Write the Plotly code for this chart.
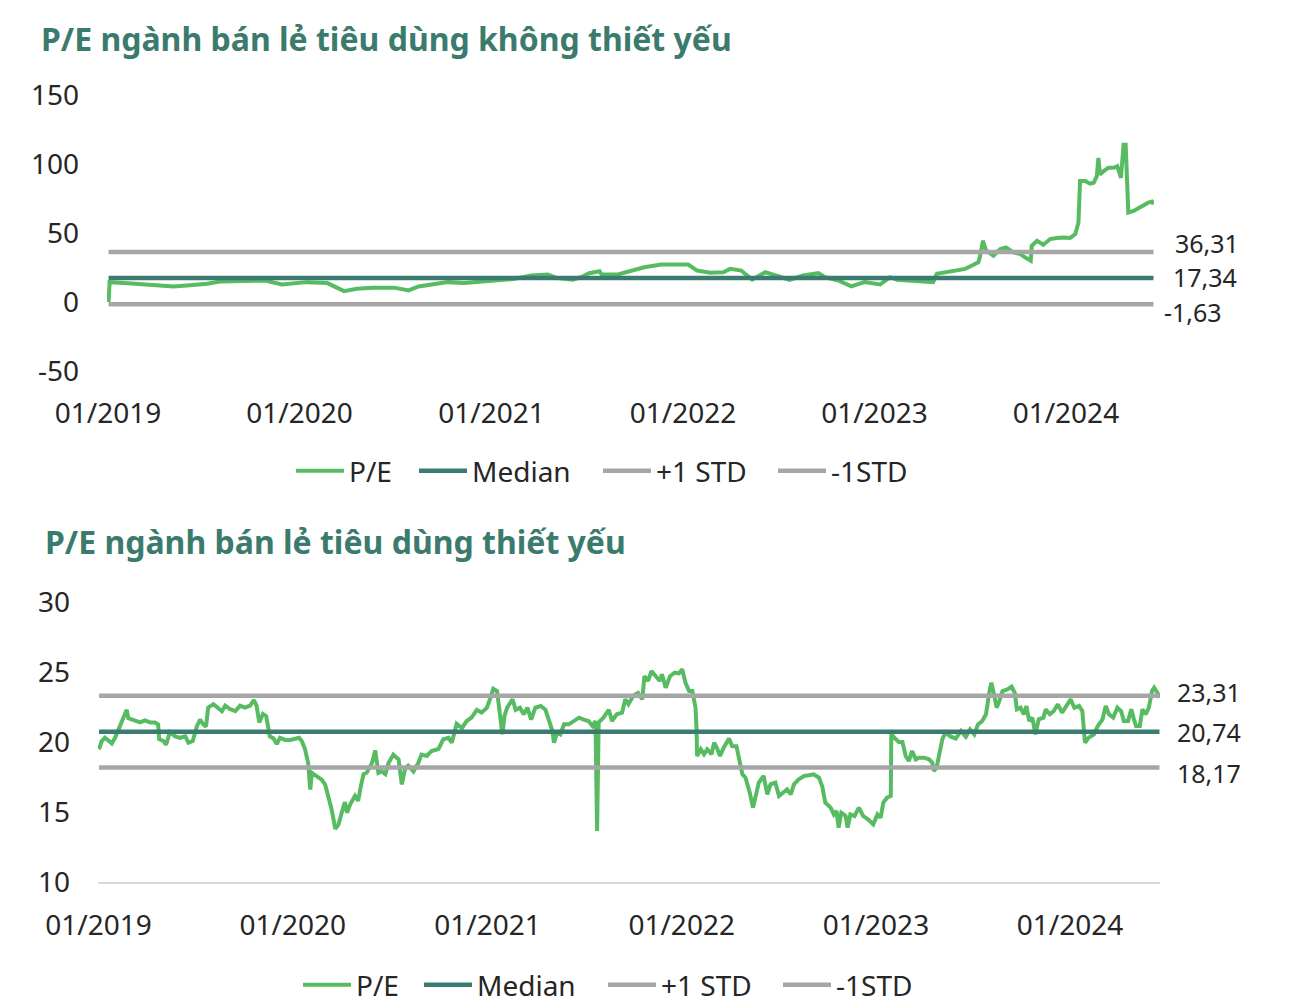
import plotly.graph_objects as go

# ---------------- DATA ----------------
TITLE_TOP = "P/E ngành bán lẻ tiêu dùng không thiết yếu"
TITLE_BOT = "P/E ngành bán lẻ tiêu dùng thiết yếu"
SERIES = ["P/E", "Median", "+1 STD", "-1STD"]

top_dates = [
    "2019-01-02", "2019-01-04", "2019-02-01", "2019-03-12", "2019-05-06", "2019-05-31", "2019-07-09", "2019-08-02",
    "2019-09-26", "2019-10-28", "2019-11-28",
    "2020-01-15", "2020-02-23", "2020-03-10", "2020-03-26", "2020-04-19", "2020-05-20", "2020-06-29", "2020-07-27",
    "2020-08-15", "2020-09-16", "2020-10-10", "2020-11-10", "2020-12-12",
    "2021-01-14", "2021-02-14", "2021-03-18", "2021-04-18", "2021-05-04", "2021-06-05", "2021-06-21", "2021-07-06",
    "2021-07-26", "2021-07-30", "2021-08-30", "2021-09-23", "2021-10-19", "2021-11-21", "2021-12-25",
    "2022-01-11", "2022-01-28", "2022-02-22", "2022-03-19", "2022-04-01", "2022-04-22", "2022-05-13", "2022-06-07",
    "2022-06-28", "2022-07-23", "2022-08-18", "2022-09-16", "2022-09-29", "2022-10-24", "2022-11-18", "2022-12-13",
    "2023-01-12", "2023-01-31", "2023-02-13", "2023-03-16", "2023-04-23", "2023-04-30", "2023-05-19", "2023-06-07",
    "2023-06-23", "2023-07-06", "2023-07-18", "2023-07-21", "2023-07-27", "2023-08-02", "2023-08-16", "2023-08-29",
    "2023-09-09", "2023-09-23", "2023-10-06", "2023-10-15", "2023-10-26", "2023-10-28", "2023-11-07", "2023-11-19",
    "2023-12-02", "2023-12-15", "2023-12-27",
    "2024-01-09", "2024-01-19", "2024-01-25", "2024-01-28", "2024-02-07", "2024-02-16", "2024-02-23", "2024-02-29",
    "2024-03-03", "2024-03-06", "2024-03-13", "2024-03-22", "2024-04-01", "2024-04-08", "2024-04-15", "2024-04-20",
    "2024-04-24", "2024-04-29", "2024-05-09", "2024-05-18", "2024-05-28", "2024-06-06", "2024-06-13", "2024-06-16",
]
top_pe = [
    0, 14.4, 13.7, 12.7, 11.3, 12.0, 13.2, 14.9, 15.6, 15.6, 12.7,
    14.4, 13.7, 10.8, 7.9, 9.6, 10.4, 10.4, 8.4, 11.3, 12.7, 14.4, 13.7, 14.9,
    15.6, 16.8, 19.2, 19.9, 17.6, 16.1, 18.0, 20.9, 22.3, 19.9, 19.9, 22.8, 25.2, 27.1, 26.9,
    27.1, 22.8, 21.2, 21.6, 24.0, 22.8, 16.3, 21.6, 19.2, 16.1, 19.2, 20.9, 18.0, 15.6, 11.3, 14.4,
    12.7, 18.0, 16.1, 15.1, 14.4, 20.4, 21.6, 23.3, 24.0, 26.4,
    28.8, 32.4, 44.4, 37.2, 33.6, 38.4, 39.6, 36.0, 34.8, 32.4,
    30.0, 40.8, 44.4, 41.5, 45.6, 46.4, 46.8,
    46.4, 49.2, 57.6, 87.6, 87.6, 85.7, 86.4, 91.2, 104.4, 92.4,
    94.8, 97.2, 97.2, 98.4, 90.0, 114.0, 114.0, 64.8, 66.0, 68.0,
    70.3, 72.0, 72.7, 70.8,
]
top_median, top_plus, top_minus = 17.34, 36.31, -1.63
top_level_labels = ["36,31", "17,34", "-1,63"]
top_yticks = [-50, 0, 50, 100, 150]
top_yticktext = ["-50", "0", "50", "100", "150"]

bot_dates = [
    "2019-01-02", "2019-01-07", "2019-01-13", "2019-01-19", "2019-01-26", "2019-02-01", "2019-02-07", "2019-02-14", "2019-02-23", "2019-02-26",
    "2019-03-07", "2019-03-20", "2019-03-29", "2019-04-08", "2019-04-17", "2019-04-23", "2019-04-25", "2019-05-03", "2019-05-08", "2019-05-15",
    "2019-05-25", "2019-06-03", "2019-06-13", "2019-06-19", "2019-06-27", "2019-07-05", "2019-07-11", "2019-07-17", "2019-07-22", "2019-07-26",
    "2019-08-05", "2019-08-14", "2019-08-21", "2019-08-27", "2019-09-05", "2019-09-15", "2019-09-24", "2019-10-03", "2019-10-13", "2019-10-20",
    "2019-10-25", "2019-10-30", "2019-11-06", "2019-11-12", "2019-11-16", "2019-11-19", "2019-11-26", "2019-12-02", "2019-12-08", "2019-12-18",
    "2019-12-27",
    "2020-01-05", "2020-01-13", "2020-01-18", "2020-01-24", "2020-01-30", "2020-02-03", "2020-02-06", "2020-02-15", "2020-02-25", "2020-03-02",
    "2020-03-08", "2020-03-14", "2020-03-21", "2020-03-27", "2020-04-02", "2020-04-08", "2020-04-12", "2020-04-18", "2020-04-27", "2020-05-03",
    "2020-05-08", "2020-05-13", "2020-05-19", "2020-05-29", "2020-06-04", "2020-06-10", "2020-06-16", "2020-06-23", "2020-06-29", "2020-07-08",
    "2020-07-18", "2020-07-24", "2020-07-30", "2020-08-05", "2020-08-15", "2020-08-24", "2020-08-30", "2020-09-09", "2020-09-18", "2020-10-01",
    "2020-10-10", "2020-10-20", "2020-10-26", "2020-11-04", "2020-11-14", "2020-11-23", "2020-12-02", "2020-12-12", "2020-12-21", "2020-12-31",
    "2021-01-07", "2021-01-12", "2021-01-19", "2021-01-24", "2021-01-29", "2021-02-02", "2021-02-07", "2021-02-17", "2021-02-23", "2021-03-03",
    "2021-03-10", "2021-03-17", "2021-03-24", "2021-04-01", "2021-04-11", "2021-04-20", "2021-04-26", "2021-05-03", "2021-05-06", "2021-05-12",
    "2021-05-18", "2021-05-25", "2021-06-03", "2021-06-12", "2021-06-22", "2021-07-01", "2021-07-10", "2021-07-17", "2021-07-23", "2021-07-26",
    "2021-07-29", "2021-08-07", "2021-08-17", "2021-08-23", "2021-09-01", "2021-09-11", "2021-09-17", "2021-09-23", "2021-10-02", "2021-10-11",
    "2021-10-19", "2021-10-23", "2021-10-30", "2021-11-05", "2021-11-14", "2021-11-21", "2021-11-25", "2021-12-02", "2021-12-10", "2021-12-19",
    "2021-12-27",
    "2022-01-02", "2022-01-08", "2022-01-15", "2022-01-21", "2022-01-27", "2022-01-29", "2022-01-30", "2022-02-06", "2022-02-12", "2022-02-18",
    "2022-02-26", "2022-03-03", "2022-03-08", "2022-03-14", "2022-03-21", "2022-03-31", "2022-04-06", "2022-04-14", "2022-04-18", "2022-04-25",
    "2022-05-01", "2022-05-09", "2022-05-15", "2022-05-20", "2022-05-26", "2022-06-04", "2022-06-11", "2022-06-17", "2022-06-26", "2022-07-03",
    "2022-07-11", "2022-07-18", "2022-07-25", "2022-07-31", "2022-08-09", "2022-08-19", "2022-08-28", "2022-09-06", "2022-09-16", "2022-09-22",
    "2022-09-28", "2022-10-08", "2022-10-14", "2022-10-19", "2022-10-23", "2022-10-28", "2022-11-05", "2022-11-09", "2022-11-14", "2022-11-22",
    "2022-11-30", "2022-12-08", "2022-12-17", "2022-12-27",
    "2023-01-04", "2023-01-10", "2023-01-15", "2023-01-22", "2023-01-29", "2023-01-30", "2023-02-05", "2023-02-13", "2023-02-20", "2023-02-26",
    "2023-03-04", "2023-03-10", "2023-03-17", "2023-03-23", "2023-04-01", "2023-04-11", "2023-04-17", "2023-04-20", "2023-04-25", "2023-04-30",
    "2023-05-06", "2023-05-12", "2023-05-22", "2023-05-31", "2023-06-10", "2023-06-19", "2023-06-27", "2023-07-05", "2023-07-12", "2023-07-20",
    "2023-07-27", "2023-08-02", "2023-08-06", "2023-08-11", "2023-08-16", "2023-08-21", "2023-08-27", "2023-09-05", "2023-09-13", "2023-09-19",
    "2023-09-23", "2023-09-30", "2023-10-06", "2023-10-11", "2023-10-16", "2023-10-22", "2023-10-28", "2023-11-03", "2023-11-12", "2023-11-16",
    "2023-11-24", "2023-12-01", "2023-12-09", "2023-12-17", "2023-12-25",
    "2024-01-02", "2024-01-09", "2024-01-18", "2024-01-24", "2024-01-29", "2024-02-05", "2024-02-15", "2024-02-22", "2024-03-02", "2024-03-08",
    "2024-03-14", "2024-03-22", "2024-03-30", "2024-04-06", "2024-04-11", "2024-04-19", "2024-04-25", "2024-04-30", "2024-05-04", "2024-05-11",
    "2024-05-16", "2024-05-22", "2024-05-28", "2024-06-03", "2024-06-07", "2024-06-13", "2024-06-17",
]
bot_pe = [
    19.48, 20.07, 20.31, 20.15, 19.9, 20.3, 20.8, 21.4, 22.3, 21.7,
    21.6, 21.4, 21.55, 21.4, 21.4, 21.25, 20.2, 20.07, 19.8, 20.7,
    20.4, 20.3, 20.4, 19.95, 20.07, 21.15, 21.6, 21.25, 21.1, 22.45,
    22.7, 22.45, 22.2, 22.6, 22.35, 22.2, 22.6, 22.45, 22.6, 23.0,
    22.6, 21.4, 22.0, 21.85, 21.15, 20.4, 20.25, 19.85, 20.3, 20.15,
    20.15,
    20.2, 20.3, 20.07, 19.5, 18.5, 16.6, 17.8, 17.6, 17.3, 16.95,
    16.15, 15.2, 13.8, 14.1, 14.95, 15.7, 14.95, 15.55, 16.15, 15.8,
    16.85, 17.7, 17.8, 18.5, 19.4, 17.8, 17.9, 17.7, 18.5, 19.1,
    18.75, 16.97, 18.05, 18.3, 17.9, 18.5, 19.1, 19.0, 19.36, 19.5,
    20.2, 20.3, 19.95, 21.3, 21.0, 21.5, 21.74, 22.3, 22.1, 22.45,
    23.2, 23.8, 23.65, 21.86, 20.55, 21.86, 22.45, 23.05, 22.3, 22.45,
    21.98, 22.45, 21.6, 22.45, 22.57, 22.3, 21.5, 20.8, 19.95, 20.67,
    20.55, 21.26, 21.26, 21.5, 21.74, 21.6, 21.5, 21.15, 21.5, 13.65,
    21.4, 21.74, 22.3, 21.5, 21.98, 22.1, 23.05, 22.7, 23.3, 23.5,
    23.05, 24.7, 24.36, 25.07, 24.7, 24.36, 24.83, 23.88, 24.7, 24.95,
    24.9,
    25.2, 24.24, 23.64, 23.64, 22.45, 20.9, 19.0, 19.48, 19.12, 19.48,
    19.12, 19.95, 19.6, 19.0, 19.6, 20.24, 19.7, 19.7, 19.0, 17.7,
    17.45, 16.38, 15.31, 16.14, 17.1, 17.57, 16.26, 16.98, 17.1, 16.14,
    16.38, 16.62, 16.26, 16.98, 17.33, 17.57, 17.62, 17.69, 17.45, 16.86,
    15.67, 15.31, 14.83, 15.07, 13.88, 14.95, 14.72, 13.88, 14.83, 14.72,
    15.31, 14.72, 14.48, 14.12,
    14.83, 14.6, 15.67, 16.02, 16.14, 20.55, 20.3, 20.0, 20.0, 19.0,
    18.64, 19.36, 18.76, 18.88, 18.88, 18.76, 18.52, 17.93, 18.17, 19.24,
    20.2, 20.67, 20.38, 20.24, 20.79, 20.38, 20.9, 20.55, 21.26, 21.5,
    21.98, 23.52, 24.24, 23.4, 22.45, 22.93, 23.64, 23.76, 23.95, 23.52,
    22.33, 22.45, 21.98, 22.57, 21.5, 21.74, 20.55, 21.62, 21.74, 22.33,
    21.98, 22.2, 22.69, 22.1, 22.57,
    23.05, 22.45, 22.57, 22.2, 19.95, 20.31, 20.55, 21.14, 21.62, 22.57,
    21.98, 21.74, 22.45, 22.2, 21.5, 21.5, 22.33, 21.62, 21.14, 21.14,
    22.33, 21.98, 22.45, 23.64, 23.88, 23.52, 23.17,
]
bot_median, bot_plus, bot_minus = 20.74, 23.31, 18.17
bot_level_labels = ["23,31", "20,74", "18,17"]
bot_yticks = [10, 15, 20, 25, 30]

assert len(top_dates) == len(top_pe)
assert len(bot_dates) == len(bot_pe)

# ---------------- STYLE ----------------
W, H = 1290, 1006
FONT = "Noto Sans"
C_PE = "#57BB61"
C_MED = "#3B7B72"
C_STD = "#A6A6A6"
C_TITLE = "#3B7B6E"
C_TEXT = "#262626"


def px(v):
    return v / W


def py(v):
    return 1 - v / H


fig = go.Figure()

# one legend per entry so each entry sits exactly where the reference puts it
top_leg_names = ["legend", "legend2", "legend3", "legend4"]
bot_leg_names = ["legend5", "legend6", "legend7", "legend8"]
top_leg_x = [291, 414, 598, 773]
bot_leg_x = [298, 419, 603, 778]


def add_panel(dates, pe, med, plus, minus, xa, ya, legs):
    x_ends = [dates[0], dates[-1]]
    fig.add_trace(go.Scatter(x=dates, y=pe, name=SERIES[0], mode="lines",
                             line=dict(color=C_PE, width=4), xaxis=xa, yaxis=ya, legend=legs[0]))
    fig.add_trace(go.Scatter(x=x_ends, y=[med, med], name=SERIES[1], mode="lines",
                             line=dict(color=C_MED, width=4.5), xaxis=xa, yaxis=ya, legend=legs[1]))
    fig.add_trace(go.Scatter(x=x_ends, y=[plus, plus], name=SERIES[2], mode="lines",
                             line=dict(color=C_STD, width=4.5), xaxis=xa, yaxis=ya, legend=legs[2]))
    fig.add_trace(go.Scatter(x=x_ends, y=[minus, minus], name=SERIES[3], mode="lines",
                             line=dict(color=C_STD, width=4.5), xaxis=xa, yaxis=ya, legend=legs[3]))


add_panel(top_dates, top_pe, top_median, top_plus, top_minus, "x", "y", top_leg_names)
add_panel(bot_dates, bot_pe, bot_median, bot_plus, bot_minus, "x2", "y2", bot_leg_names)

tickfont = dict(family=FONT, size=28, color=C_TEXT)
xcommon = dict(type="date", tickformat="%m/%Y", dtick="M12", tick0="2019-01-01", automargin=False,
               showgrid=False, zeroline=False, ticks="", tickfont=tickfont)
ycommon = dict(showgrid=False, zeroline=False, ticks="", tickfont=tickfont, ticklabelstandoff=27,
               automargin=False)

legend_common = dict(orientation="h", xanchor="left", yanchor="middle",
                     font=dict(family=FONT, size=28, color=C_TEXT),
                     itemwidth=48, bgcolor="rgba(0,0,0,0)", traceorder="normal")

legends = {}
for name, lx in zip(top_leg_names, top_leg_x):
    legends[name] = dict(x=px(lx), y=py(471), **legend_common)
for name, lx in zip(bot_leg_names, bot_leg_x):
    legends[name] = dict(x=px(lx), y=py(985), **legend_common)

fig.update_layout(
    width=W, height=H,
    margin=dict(l=0, r=0, t=0, b=0, autoexpand=False),
    paper_bgcolor="white", plot_bgcolor="white",
    font=dict(family=FONT, color=C_TEXT),
    showlegend=True,
    xaxis=dict(domain=[px(107), px(1154)], range=["2018-12-30", "2024-06-17"], anchor="y",
               showline=False, ticklabelstandoff=23, **xcommon),
    yaxis=dict(domain=[py(371), py(95)], range=[-50, 150], anchor="x",
               tickvals=top_yticks, ticktext=top_yticktext, **ycommon),
    xaxis2=dict(domain=[px(98), px(1160)], range=["2018-12-31", "2024-06-18"], anchor="y2",
                showline=True, linecolor="#D9D9D9", linewidth=2, ticklabelstandoff=17, **xcommon),
    yaxis2=dict(domain=[py(882), py(602)], range=[10, 30], anchor="x2",
                tickvals=bot_yticks, **ycommon),
    **legends,
)

annotations = [
    dict(text=f"<b>{TITLE_TOP}</b>", xref="paper", yref="paper", x=px(39), y=py(38),
         xanchor="left", yanchor="middle", showarrow=False,
         font=dict(family=FONT, size=32, color=C_TITLE)),
    dict(text=f"<b>{TITLE_BOT}</b>", xref="paper", yref="paper", x=px(43), y=py(541),
         xanchor="left", yanchor="middle", showarrow=False,
         font=dict(family=FONT, size=32, color=C_TITLE)),
]

lab_font = dict(family=FONT, size=25, color=C_TEXT)
for val, lab, xs, ys in zip([top_plus, top_median, top_minus], top_level_labels,
                            [20, 18, 9], [9, 1, -8]):
    annotations.append(dict(text=lab, x=top_dates[-1], y=val, xref="x", yref="y",
                            xanchor="left", yanchor="middle", showarrow=False,
                            xshift=xs, yshift=ys, font=lab_font))
for val, lab, xs, ys in zip([bot_plus, bot_median, bot_minus], bot_level_labels,
                            [16, 16, 16], [4, 0, -5]):
    annotations.append(dict(text=lab, x=bot_dates[-1], y=val, xref="x2", yref="y2",
                            xanchor="left", yanchor="middle", showarrow=False,
                            xshift=xs, yshift=ys, font=lab_font))

fig.update_layout(annotations=annotations)

fig.write_html("out.html")
